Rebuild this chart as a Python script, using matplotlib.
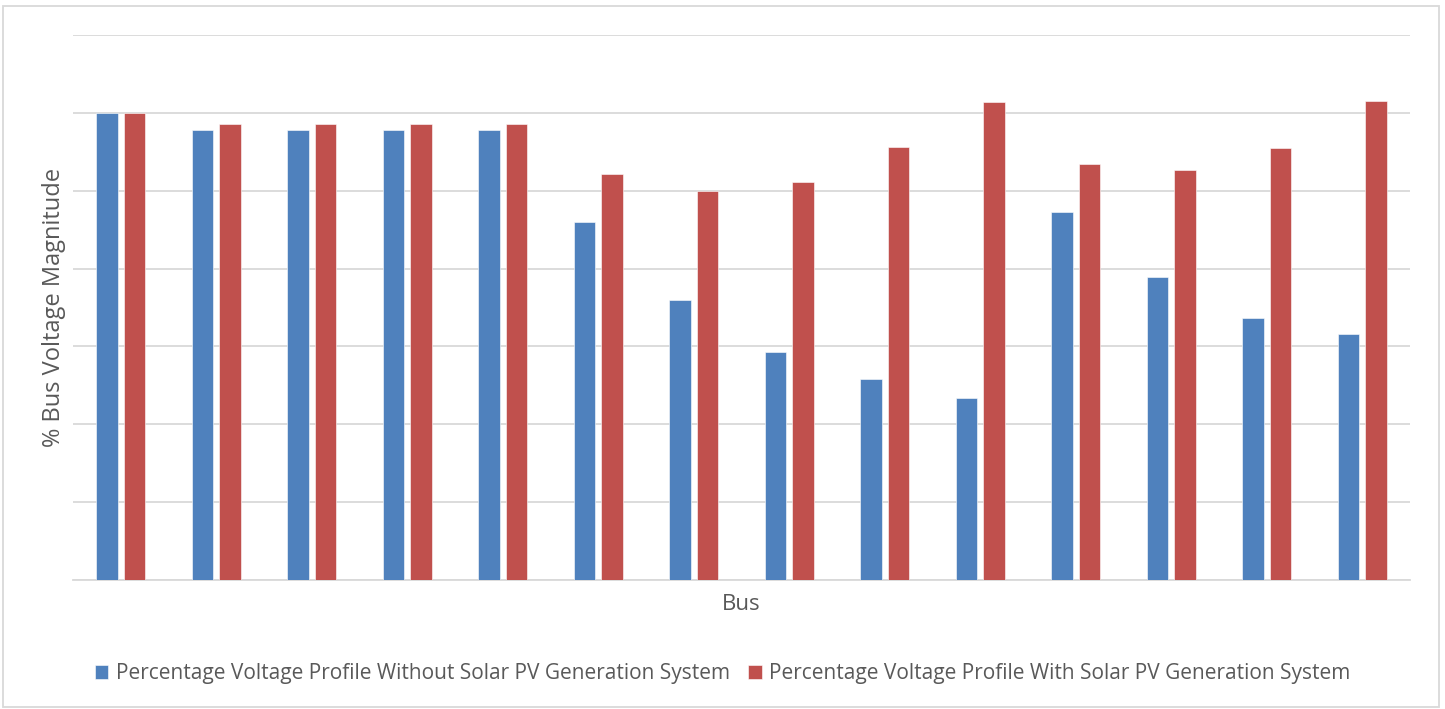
import numpy as np
import matplotlib.pyplot as plt

# values (in gridline units, no tick labels in the original)
buses = list(range(1, 15))
without_pv = [6.00, 5.78, 5.78, 5.78, 5.78, 4.60, 3.60, 2.93, 2.58, 2.34, 4.73, 3.89, 3.37, 3.16]
with_pv = [6.00, 5.86, 5.86, 5.86, 5.86, 5.21, 5.00, 5.11, 5.56, 6.14, 5.34, 5.27, 5.55, 6.15]

plt.rcParams['font.family'] = ['Open Sans', 'DejaVu Sans']

fig = plt.figure(figsize=(14.45, 7.09), dpi=100)
ax = fig.add_axes([73/1445, 1 - 580/709, (1410-73)/1445, (580-35)/709])

x = np.arange(len(buses))
w = 0.225
off = 0.143
ax.bar(x - off, without_pv, w, color='#4F81BD', edgecolor='white', linewidth=0.4,
       label='Percentage Voltage Profile Without Solar PV Generation System', zorder=3)
ax.bar(x + off, with_pv, w, color='#C0504D', edgecolor='white', linewidth=0.4,
       label='Percentage Voltage Profile With Solar PV Generation System', zorder=3)

ax.set_xlim(-0.5, len(buses) - 0.5)
ax.set_ylim(0, 7)
ax.set_yticks(np.arange(0, 8))
ax.yaxis.grid(True, color='#D9D9D9', linewidth=1.3)
ax.set_xticks([])
ax.tick_params(axis='y', length=0, labelleft=False)
for s in ['top', 'right', 'left']:
    ax.spines[s].set_visible(False)
ax.spines['bottom'].set_color('#D9D9D9')
ax.spines['bottom'].set_linewidth(1.3)

ax.set_xlabel('Bus', fontsize=16, color='#595959', labelpad=10)
ax.set_ylabel('% Bus Voltage Magnitude', fontsize=17, color='#595959', labelpad=5)

fig.legend(loc='center', bbox_to_anchor=(0.5, 1 - 674/709), ncol=2, frameon=False,
           fontsize=15, labelcolor='#595959', handlelength=0.65, handleheight=0.65,
           handletextpad=0.35, columnspacing=0.9)

# light border around the whole chart
fig.patches.append(plt.Rectangle((3/1445, 2/709), 1436/1445, 701/709, transform=fig.transFigure,
                                 fill=False, edgecolor='#D9D9D9', linewidth=1.3))

fig.savefig('out.png', dpi=100)
